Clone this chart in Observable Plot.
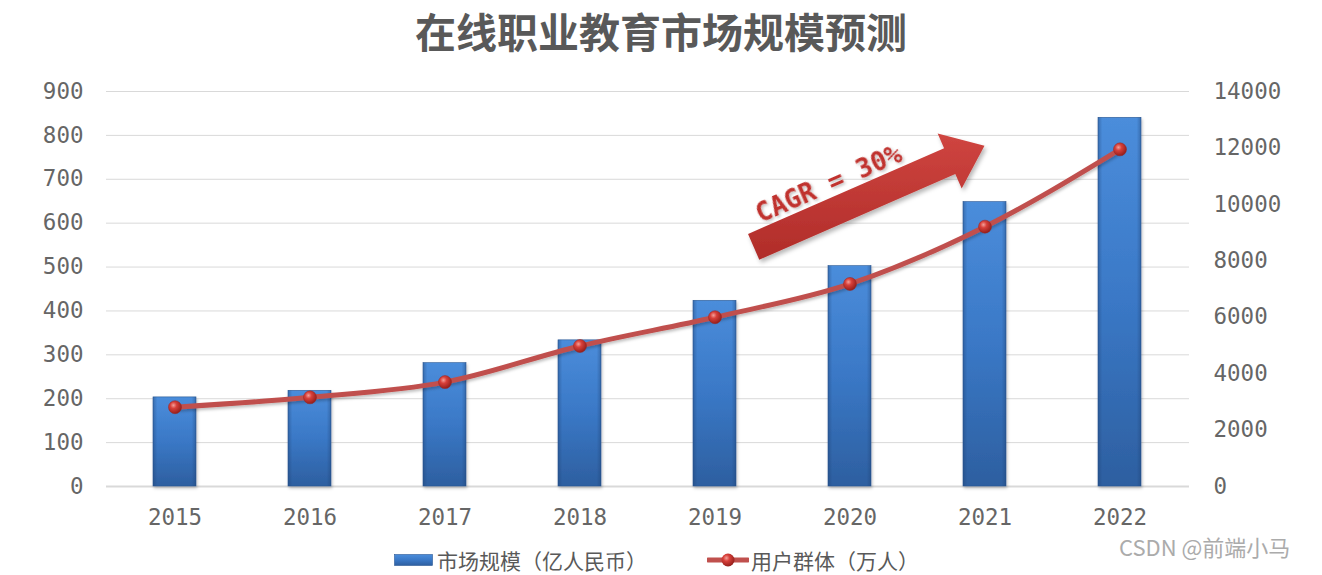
<!DOCTYPE html>
<html>
<head>
<meta charset="utf-8">
<script src="https://cdn.jsdelivr.net/npm/d3@7"></script>
<script src="https://cdn.jsdelivr.net/npm/@observablehq/plot@0.6"></script>
<style>
  html, body { margin: 0; padding: 0; background: #fff; }
  #wrap { position: relative; width: 1322px; height: 575px; overflow: hidden; background: #fff; }
  #title { position: absolute; left: 0; top: 5px; width: 1322px; text-align: center;
    font-family: "Noto Sans CJK SC", sans-serif; font-weight: 700; font-size: 41px; line-height: 50px; color: #595959; }
  #chart { position: absolute; left: 0; top: 60px; }
  #legend { position: absolute; left: 0; top: 545px; width: 1322px; height: 30px;
    font-family: "Noto Sans CJK SC", sans-serif; font-size: 21px; color: #595959; }
  .lg { position: absolute; top: 0; display: flex; align-items: center; height: 30px; line-height: 30px; white-space: nowrap; }
  #wm { position: absolute; left: 1119px; top: 534px; font-family: "Noto Sans CJK SC", sans-serif;
    font-size: 22px; line-height: 24px; height: 24px; color: #ababab; white-space: nowrap; }
</style>
</head>
<body>
<div id="wrap">
  <div id="title">在线职业教育市场规模预测</div>
  <div id="chart"></div>
  <div id="legend"></div>
  <div id="wm">CSDN @前端小马</div>
</div>
<script>
// ---- data ----
const years = ["2015", "2016", "2017", "2018", "2019", "2020", "2021", "2022"];
const marketSize = [203, 218, 281, 333, 423, 502, 648, 840];      // 亿人民币 (left axis)
const users = [2810, 3160, 3700, 4980, 6000, 7180, 9210, 11950];  // 万人 (right axis)
const leftTicks = [0, 100, 200, 300, 400, 500, 600, 700, 800, 900];
const rightTicks = [0, 2000, 4000, 6000, 8000, 10000, 12000, 14000];
const seriesNames = ["市场规模（亿人民币）", "用户群体（万人）"];
const titleText = "在线职业教育市场规模预测";
const cagrLabel = "CAGR = 30%";
// arrow annotation in data space: start (year + fraction of a step, left-axis value), tip
const arrowStart = {year: "2019", offset: 0.29, value: 545};
const arrowEnd = {year: "2021", offset: 0, value: 775};

const leftMax = 900, rightMax = 14000;
const k = leftMax / rightMax;
const table = years.map((y, i) => ({year: y, market: marketSize[i], users: users[i], usersScaled: users[i] * k}));

const NS = "http://www.w3.org/2000/svg";
function el(tag, attrs) {
  const e = document.createElementNS(NS, tag);
  for (const a in attrs) e.setAttribute(a, attrs[a]);
  return e;
}

// gradient / filter defs
function defsMark() {
  const g = el("g", {});
  const defs = el("defs", {});
  defs.innerHTML = `
    <linearGradient id="barV" x1="0" y1="0" x2="0" y2="1">
      <stop offset="0" stop-color="#4b8ddb"/>
      <stop offset="0.5" stop-color="#3a78c6"/>
      <stop offset="1" stop-color="#2d5fa0"/>
    </linearGradient>
    <linearGradient id="barH" x1="0" y1="0" x2="1" y2="0">
      <stop offset="0" stop-color="#1d3f70" stop-opacity="0.4"/>
      <stop offset="0.1" stop-color="#1d3f70" stop-opacity="0"/>
      <stop offset="0.9" stop-color="#1d3f70" stop-opacity="0"/>
      <stop offset="1" stop-color="#1d3f70" stop-opacity="0.4"/>
    </linearGradient>
    <radialGradient id="dotG" cx="0.38" cy="0.35" r="0.7">
      <stop offset="0" stop-color="#f4a09a"/>
      <stop offset="0.35" stop-color="#d8403a"/>
      <stop offset="1" stop-color="#8e1b18"/>
    </radialGradient>
    <linearGradient id="arrowG" x1="0" y1="0" x2="0" y2="1">
      <stop offset="0" stop-color="#cf4540"/>
      <stop offset="1" stop-color="#b02c29"/>
    </linearGradient>
    <filter id="shadow" x="-20%" y="-20%" width="140%" height="160%">
      <feDropShadow dx="2" dy="3" stdDeviation="2" flood-color="#000" flood-opacity="0.28"/>
    </filter>
    <filter id="shadowS" x="-20%" y="-20%" width="140%" height="160%">
      <feDropShadow dx="1" dy="2" stdDeviation="1.5" flood-color="#000" flood-opacity="0.25"/>
    </filter>`;
  g.appendChild(defs);
  return g;
}

function bandCenter(scale, cat) {
  const bw = typeof scale.bandwidth === "function" ? scale.bandwidth() : 0;
  return scale(cat) + bw / 2;
}

// CAGR arrow drawn from data-space anchors via the plot's scales
function arrowMark(index, scales) {
  const x = scales.x, y = scales.y;
  const step = bandCenter(x, years[1]) - bandCenter(x, years[0]);
  const sx = bandCenter(x, arrowStart.year) + arrowStart.offset * step;
  const sy = y(arrowStart.value);
  const tx = bandCenter(x, arrowEnd.year) + arrowEnd.offset * step;
  const ty = y(arrowEnd.value);
  const dx = tx - sx, dy = ty - sy, len = Math.hypot(dx, dy);
  const ux = dx / len, uy = dy / len;
  const nx = uy, ny = -ux; // normal pointing up-left
  const w = 14, h = 30, L = 38;
  const bx = tx - ux * L, by = ty - uy * L;
  const pts = [
    [sx + nx * w, sy + ny * w],
    [bx + nx * w, by + ny * w],
    [bx + nx * h, by + ny * h],
    [tx, ty],
    [bx - nx * h, by - ny * h],
    [bx - nx * w, by - ny * w],
    [sx - nx * w, sy - ny * w]
  ];
  const g = el("g", {});
  g.appendChild(el("polygon", {points: pts.map(p => p.join(",")).join(" "), fill: "url(#arrowG)", filter: "url(#shadow)"}));
  const ang = Math.atan2(dy, dx) * 180 / Math.PI;
  const cx = sx + ux * 94 + nx * 28, cy = sy + uy * 94 + ny * 28;
  const t = el("text", {
    x: 0, y: 0, transform: `translate(${cx},${cy}) rotate(${ang})`,
    "text-anchor": "middle", "dominant-baseline": "central",
    fill: "#c0332f", "font-family": "DejaVu Sans Mono, monospace", "font-weight": "bold",
    "font-size": "26px", "xml:space": "preserve", filter: "url(#shadowS)"
  });
  t.textContent = cagrLabel;
  g.appendChild(t);
  return g;
}

const plot = Plot.plot({
  width: 1322,
  height: 490,
  marginTop: 31,
  marginBottom: 64,
  marginLeft: 106,
  marginRight: 133,
  style: {fontFamily: "DejaVu Sans Mono, monospace", fontSize: "22.5px", color: "#666", background: "transparent"},
  x: {domain: years, paddingInner: 0.68, paddingOuter: 0.34, label: null},
  y: {domain: [0, leftMax], label: null},
  marks: [
    defsMark,
    Plot.gridY(leftTicks, {stroke: "#d9d9d9", strokeOpacity: 1, strokeWidth: 1}),
    Plot.ruleY([0], {stroke: "#d9d9d9", strokeWidth: 2}),
    Plot.barY(table, {x: "year", y: "market", fill: "url(#barV)", stroke: "#2a5894", strokeWidth: 0.6}),
    Plot.barY(table, {x: "year", y: "market", fill: "url(#barH)"}),
    Plot.axisX({tickSize: 0, tickPadding: 23, fill: "#666"}),
    Plot.axisY(leftTicks, {anchor: "left", tickSize: 0, tickPadding: 23, fill: "#666"}),
    Plot.axisY(rightTicks.map(v => v * k), {anchor: "right", tickSize: 0, tickPadding: 24, fill: "#666",
      tickFormat: d => String(Math.round(d / k))}),
    arrowMark,
    Plot.line(table, {x: "year", y: "usersScaled", stroke: "#c0504d", strokeWidth: 5, curve: "monotone-x", strokeLinecap: "round"}),
    Plot.dot(table, {x: "year", y: "usersScaled", r: 6.5, fill: "url(#dotG)", stroke: "#9a2622", strokeWidth: 0.5})
  ]
});
plot.querySelectorAll('[aria-label="bar"]').forEach((g, i) => { if (i === 0) g.setAttribute("filter", "url(#shadowS)"); });
plot.querySelectorAll('[aria-label="line"]').forEach(g => g.setAttribute("filter", "url(#shadowS)"));
document.getElementById("chart").appendChild(plot);

// legend
const legend = document.getElementById("legend");
const item1 = document.createElement("div");
item1.className = "lg"; item1.style.left = "394px";
item1.innerHTML = `<svg width="40" height="14" style="margin-right:3px"><rect x="0.5" y="1.5" width="38" height="11" fill="url(#barV)" stroke="#2a5894" stroke-width="0.6"/></svg><span>${seriesNames[0]}</span>`;
const item2 = document.createElement("div");
item2.className = "lg"; item2.style.left = "707px";
item2.innerHTML = `<svg width="42" height="16" style="margin-right:2px"><line x1="1" y1="8" x2="41" y2="8" stroke="#c0504d" stroke-width="5" stroke-linecap="round"/><circle cx="21" cy="8" r="6.5" fill="url(#dotG)"/></svg><span>${seriesNames[1]}</span>`;
legend.appendChild(item1);
legend.appendChild(item2);
</script>
</body>
</html>
